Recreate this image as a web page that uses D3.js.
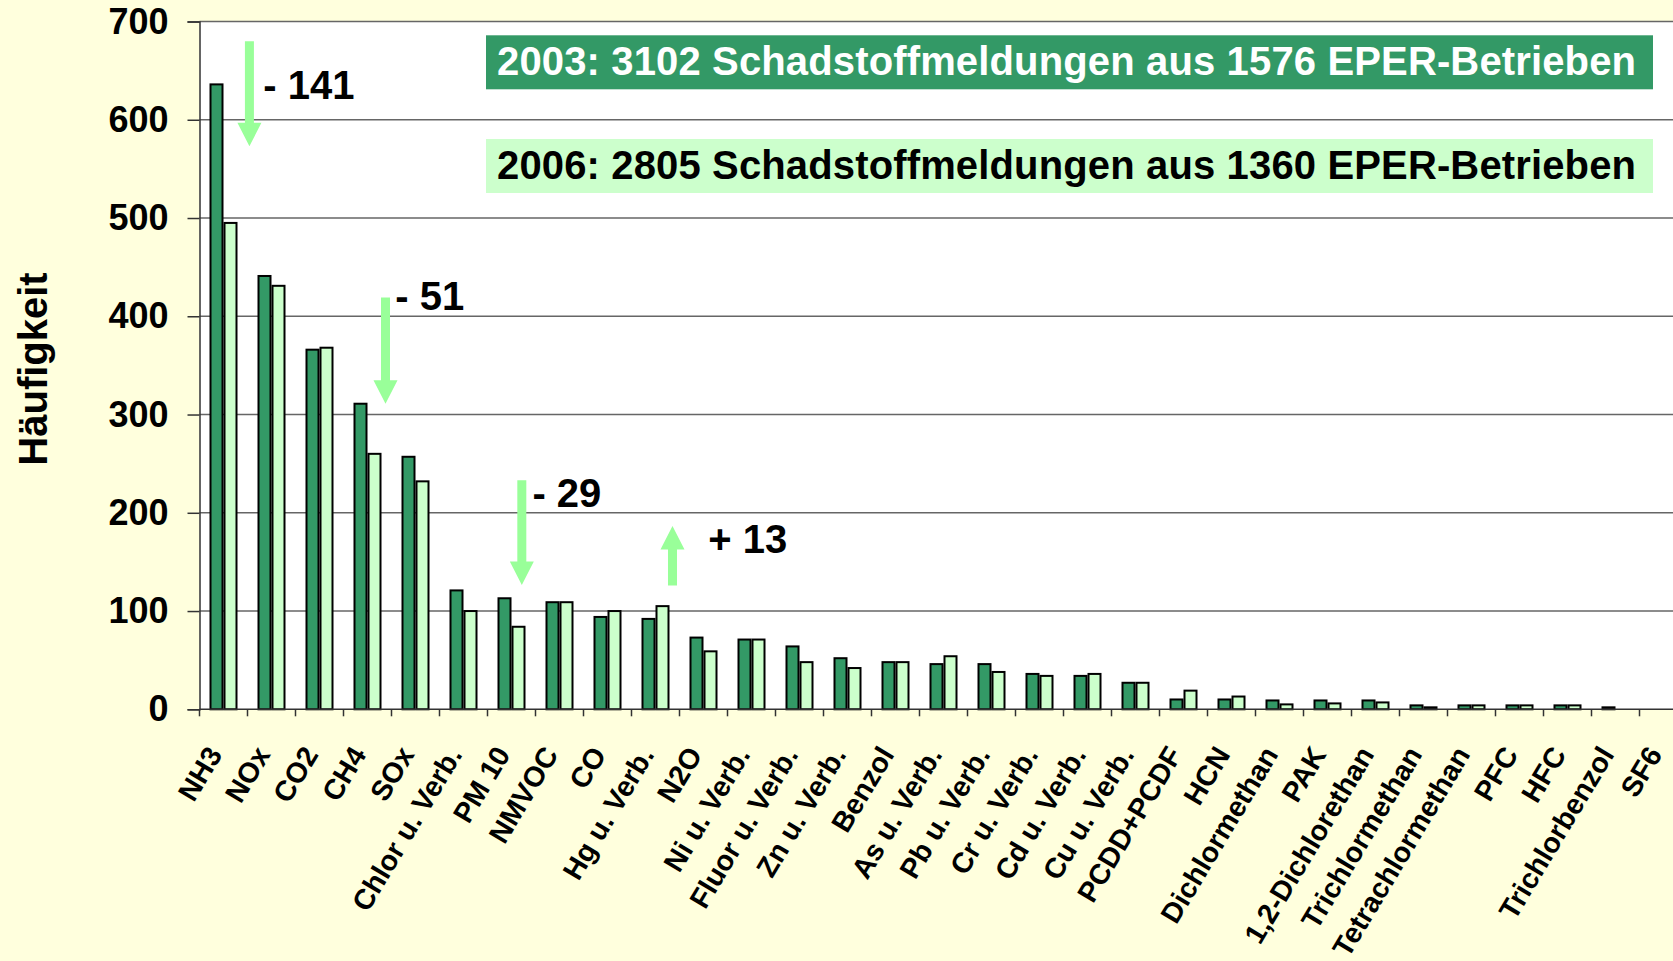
<!DOCTYPE html>
<html>
<head>
<meta charset="utf-8">
<script src="https://cdn.jsdelivr.net/npm/d3@7"></script>
<style>
  body { margin: 0; background: #FFFFDD; }
  svg text { font-family: "Liberation Sans", Arial, sans-serif; font-weight: bold; }
</style>
</head>
<body>
<div id="chart"></div>
<script>
// Schadstoffe, Anzahl Meldungen 2003 / 2006
var categories = ["NH3", "NOx", "CO2", "CH4", "SOx", "Chlor u. Verb.", "PM 10", "NMVOC", "CO",
    "Hg u. Verb.", "N2O", "Ni u. Verb.", "Fluor u. Verb.", "Zn u. Verb.", "Benzol", "As u. Verb.",
    "Pb u. Verb.", "Cr u. Verb.", "Cd u. Verb.", "Cu u. Verb.", "PCDD+PCDF", "HCN", "Dichlormethan",
    "PAK", "1,2-Dichlorethan", "Trichlormethan", "Tetrachlormethan", "PFC", "HFC", "Trichlorbenzol", "SF6"];
var values2003 = [636, 441, 366, 311, 257, 121, 113, 109, 94, 92, 73, 71, 64, 52, 48, 46, 46, 36, 34, 27,
    10, 10, 9, 9, 9, 4, 4, 4, 4, 2, 0];
var values2006 = [495, 431, 368, 260, 232, 100, 84, 109, 100, 105, 59, 71, 48, 42, 48, 54, 38, 34, 36, 27,
    19, 13, 5, 6, 7, 2, 4, 4, 4, 0, 0];
var seriesNames = ["2003", "2006"];
var legendTexts = ["2003: 3102 Schadstoffmeldungen aus 1576 EPER-Betrieben",
    "2006: 2805 Schadstoffmeldungen aus 1360 EPER-Betrieben"];
var yTicks = [0, 100, 200, 300, 400, 500, 600, 700];

// annotations (x in category units, y in data units)
var annoLabels = ["- 141", "- 51", "- 29", "+ 13"];
var annoX = [1.33, 4.08, 6.935, 10.6];
var annoY = [620.8, 406.4, 205.6, 158.8];
var arrowX = [1.04, 3.875, 6.715, 9.854];
var arrowFrom = [680, 419, 233, 126];
var arrowTo = [573, 311, 126.5, 186.6];

var width = 1673, height = 961;
var plotLeft = 199.5, plotRight = 1687.5, plotTop = 21.5, plotBottom = 709.3;
var dark = "#339966", light = "#CCFFCC", arrowCol = "#99FF99";

var svg = d3.select("#chart").append("svg")
    .attr("width", width)
    .attr("height", height);

svg.append("rect").attr("width", width).attr("height", height).attr("fill", "#FFFFDD");

var x = d3.scaleBand().domain(categories).range([plotLeft, plotRight]);
var xs = d3.scaleBand().domain(seriesNames).range([10, 38]);
var xc = d3.scaleLinear().domain([0, categories.length]).range([plotLeft, plotRight]);
var y = d3.scaleLinear().domain([0, 700]).range([plotBottom, plotTop]);

// plot area
svg.append("rect")
    .attr("x", plotLeft).attr("y", plotTop)
    .attr("width", plotRight - plotLeft).attr("height", plotBottom - plotTop)
    .attr("fill", "white");

// gridlines
svg.append("g").selectAll("line")
    .data(yTicks.slice(1))
    .enter().append("line")
    .attr("x1", plotLeft).attr("x2", plotRight)
    .attr("y1", function(d) { return y(d); })
    .attr("y2", function(d) { return y(d); })
    .attr("stroke", "#666")
    .attr("stroke-width", 1.5);

// legend boxes
var legendTop = [35.3, 139];
legendTexts.forEach(function(t, i) {
    svg.append("rect")
        .attr("x", 486).attr("y", legendTop[i])
        .attr("width", 1167).attr("height", 54)
        .attr("fill", i == 0 ? dark : light);
    svg.append("text")
        .attr("x", 497).attr("y", legendTop[i] + 40)
        .attr("font-size", 40)
        .attr("textLength", 1139)
        .attr("lengthAdjust", "spacing")
        .attr("fill", i == 0 ? "white" : "black")
        .text(t);
});

// bars
var rows = categories.map(function(c, i) {
    return {cat: c, vals: [values2003[i], values2006[i]]};
});
var groups = svg.append("g").selectAll("g")
    .data(rows)
    .enter().append("g")
    .attr("transform", function(d) { return "translate(" + x(d.cat) + ",0)"; });

groups.selectAll("rect")
    .data(function(d) {
        return d.vals.map(function(v, j) { return {s: seriesNames[j], v: v}; })
            .filter(function(e) { return e.v > 0; });
    })
    .enter().append("rect")
    .attr("x", function(d) { return xs(d.s) + 1; })
    .attr("y", function(d) { return y(d.v); })
    .attr("width", xs.bandwidth() - 2)
    .attr("height", function(d) { return plotBottom - y(d.v); })
    .attr("fill", function(d) { return d.s == "2003" ? dark : light; })
    .attr("stroke", "black")
    .attr("stroke-width", 2);

// y axis
var yAxis = svg.append("g")
    .attr("transform", "translate(" + plotLeft + ",0)")
    .call(d3.axisLeft(y).tickValues(yTicks).tickSize(12).tickPadding(19));
yAxis.select(".domain").attr("stroke", "#333").attr("stroke-width", 1.5);
yAxis.selectAll(".tick line").attr("stroke", "#333").attr("stroke-width", 1.5);
yAxis.selectAll(".tick text")
    .attr("font-size", 36)
    .attr("font-family", "Liberation Sans, Arial, sans-serif")
    .attr("fill", "black");

// x axis line + ticks at band boundaries
svg.append("line")
    .attr("x1", plotLeft).attr("x2", plotRight)
    .attr("y1", plotBottom).attr("y2", plotBottom)
    .attr("stroke", "#333").attr("stroke-width", 1.5);
svg.append("g").selectAll("line")
    .data(categories.concat(["end"]))
    .enter().append("line")
    .attr("x1", function(d) { return d == "end" ? plotRight : x(d); })
    .attr("x2", function(d) { return d == "end" ? plotRight : x(d); })
    .attr("y1", plotBottom).attr("y2", plotBottom + 7)
    .attr("stroke", "#333").attr("stroke-width", 1.5);

// x labels
svg.append("g").selectAll("text")
    .data(categories)
    .enter().append("text")
    .attr("transform", function(d) {
        return "translate(" + (x(d) + x.bandwidth() / 2 - 9) + "," + (plotBottom + 40) + ") rotate(-59)";
    })
    .attr("text-anchor", "end")
    .attr("dy", "0.35em")
    .attr("font-size", 28.5)
    .text(function(d) { return d; });

// y title
svg.append("text")
    .attr("transform", "translate(47,369) rotate(-90)")
    .attr("text-anchor", "middle")
    .attr("font-size", 40)
    .text("Häufigkeit");

// arrows
var shaft = 4.5, head = 12, headLen = 23.5;
arrowX.forEach(function(ax, i) {
    var cx = xc(ax), y0 = y(arrowFrom[i]), y1 = y(arrowTo[i]);
    var dir = y1 > y0 ? 1 : -1;
    var yb = y1 - dir * headLen;
    var pts = [[cx - shaft, y0], [cx + shaft, y0], [cx + shaft, yb], [cx + head, yb],
        [cx, y1], [cx - head, yb], [cx - shaft, yb]];
    svg.append("path")
        .attr("d", d3.line()(pts) + "Z")
        .attr("fill", arrowCol);
});

svg.append("g").selectAll("text")
    .data(annoLabels)
    .enter().append("text")
    .attr("x", function(d, i) { return xc(annoX[i]); })
    .attr("y", function(d, i) { return y(annoY[i]); })
    .attr("font-size", 40)
    .text(function(d) { return d; });
</script>
</body>
</html>
